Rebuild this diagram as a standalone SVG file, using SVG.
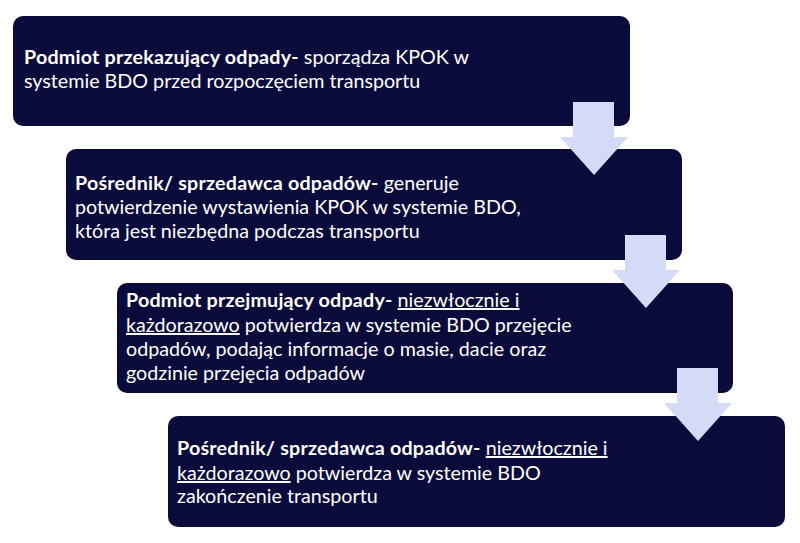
<svg xmlns="http://www.w3.org/2000/svg" width="800" height="543" viewBox="0 0 800 543">
<style>
.box{fill:#0b0b3b;}
.arr{fill:#d3dbf6;}
.t{font-family:Lato,"Noto Sans","Liberation Sans",sans-serif;font-size:19.7px;fill:#ffffff;}
.b{font-weight:bold;letter-spacing:0.2px;}
.u{text-decoration:underline;}
</style>
<rect width="800" height="543" fill="#ffffff"/>
<g id="node1">
<rect class="box" x="13" y="16" width="617" height="110" rx="10"/>
<text class="t" x="24" y="64"><tspan class="b">Podmiot przekazujący odpady-</tspan> sporządza KPOK w</text>
<text class="t" x="24" y="88">systemie BDO przed rozpoczęciem transportu</text>
</g>
<g id="node2">
<rect class="box" x="66" y="149" width="616" height="111" rx="10"/>
<text class="t" x="75" y="190"><tspan class="b">Pośrednik/ sprzedawca odpadów-</tspan> generuje</text>
<text class="t" x="75" y="214">potwierdzenie wystawienia KPOK w systemie BDO,</text>
<text class="t" x="75" y="238">która jest niezbędna podczas transportu</text>
</g>
<g id="node3">
<rect class="box" x="117" y="283" width="616" height="110" rx="10"/>
<text class="t" x="126" y="307"><tspan class="b">Podmiot przejmujący odpady-</tspan> <tspan class="u">niezwłocznie i</tspan></text>
<text class="t" x="126" y="332"><tspan class="u">każdorazowo</tspan> potwierdza w systemie BDO przejęcie</text>
<text class="t" x="126" y="356">odpadów, podając informacje o masie, dacie oraz</text>
<text class="t" x="126" y="380">godzinie przejęcia odpadów</text>
</g>
<g id="node4">
<rect class="box" x="168" y="416" width="617" height="111" rx="10"/>
<text class="t" x="177" y="455"><tspan class="b">Pośrednik/ sprzedawca odpadów-</tspan> <tspan class="u">niezwłocznie i</tspan></text>
<text class="t" x="177" y="480"><tspan class="u">każdorazowo</tspan> potwierdza w systemie BDO</text>
<text class="t" x="177" y="503">zakończenie transportu</text>
</g>
<g id="connectors">
<polygon class="arr" points="573,102 614,102 614,137 628,137 594,175 560,137 573,137"/>
<polygon class="arr" points="625,235 666,235 666,270 680,270 646,308 612,270 625,270"/>
<polygon class="arr" points="677,368 718,368 718,403 732,403 698,441 664,403 677,403"/>
</g>
</svg>
